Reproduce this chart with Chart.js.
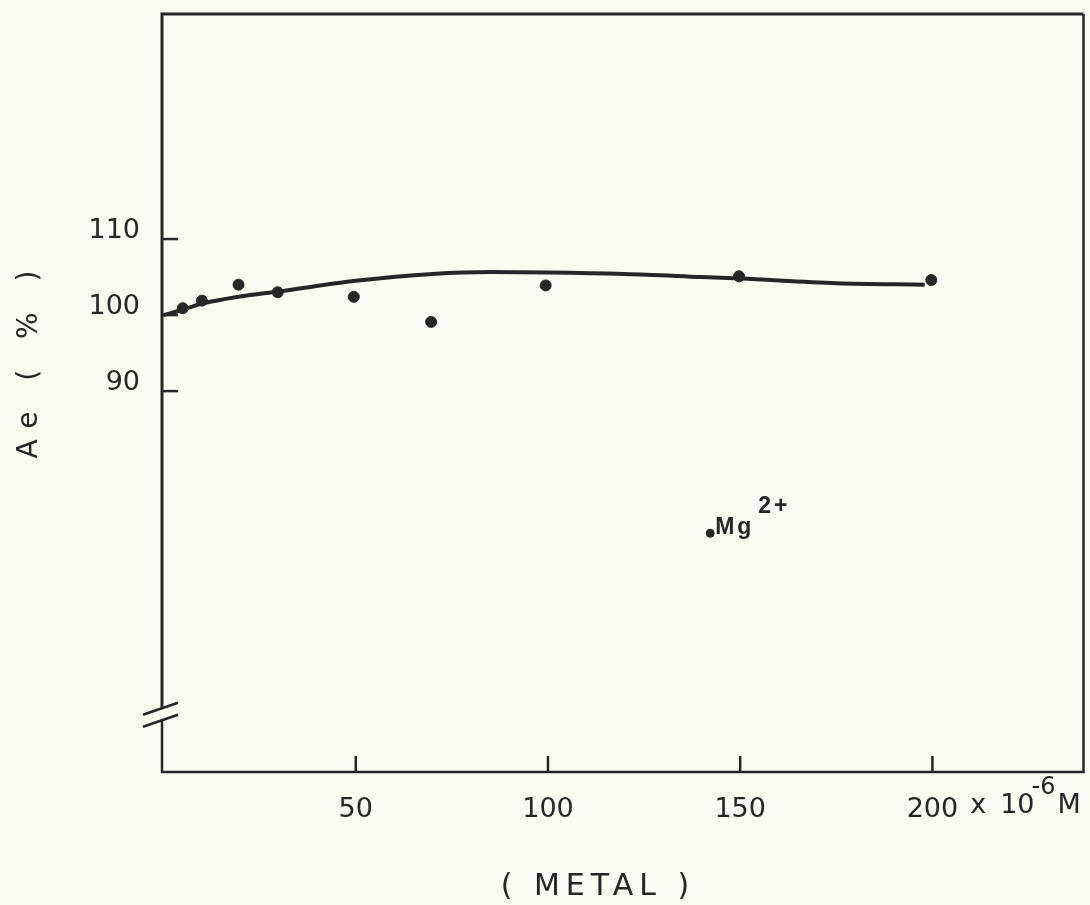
<!DOCTYPE html>
<html>
<head>
<meta charset="utf-8">
<script src="https://cdn.jsdelivr.net/npm/chart.js@4.4.1/dist/chart.umd.min.js"></script>
<style>
  html, body { margin: 0; padding: 0; background: #fbfbf3; }
  #wrap { width: 1090px; height: 905px; }
</style>
</head>
<body>
<div id="wrap"><canvas id="chart" width="1090" height="905"></canvas></div>
<script>
// metal concentration (x 10^-6 M) and Ae (%)
const xTicks = [50, 100, 150, 200];
const yTicks = [90, 100, 110];
const conc = [5, 10, 19.5, 29.7, 49.5, 69.6, 99.4, 149.7, 199.7];
const ae = [100.9, 101.9, 104.0, 103.0, 102.4, 99.1, 103.9, 105.1, 104.6];
// hand-drawn fitted curve
const fitConc = [0, 5, 10, 20, 30, 50, 70, 85, 100, 120, 140, 150, 175, 198];
const fitAe = [100.0, 100.7, 101.5, 102.45, 103.1, 104.5, 105.4, 105.65, 105.6, 105.4, 105.0, 104.8, 104.2, 104.0];
// key marker
const keyConc = [142.2];
const keyAe = [71.3];
const keyLabel = 'Mg';
const keySup = '2+';
const breakAt = 47.5;

const ink = '#262626';
const font = '"DejaVu Sans", sans-serif';

const toPts = (xs, ys) => xs.map((x, i) => ({ x: x, y: ys[i] }));

const decor = {
  id: 'decor',
  beforeDatasetsDraw(chart) {
    const { ctx, chartArea: a, scales: { x, y } } = chart;
    ctx.save();
    ctx.strokeStyle = ink;
    ctx.lineCap = 'butt';
    // frame
    const gapTop = y.getPixelForValue(breakAt) - 6;
    const gapBot = y.getPixelForValue(breakAt) + 6;
    ctx.lineWidth = 2.5;
    ctx.beginPath();
    ctx.moveTo(a.left, gapBot); ctx.lineTo(a.left, a.bottom); ctx.lineTo(a.right, a.bottom); ctx.lineTo(a.right, a.top);
    ctx.stroke();
    ctx.lineWidth = 3;
    ctx.beginPath();
    ctx.moveTo(a.right, a.top); ctx.lineTo(a.left, a.top); ctx.lineTo(a.left, gapTop);
    ctx.stroke();
    // axis break
    ctx.lineWidth = 2.5;
    [gapTop, gapBot].forEach(py => {
      ctx.beginPath();
      ctx.moveTo(a.left - 19, py + 6.5);
      ctx.lineTo(a.left + 16, py - 5.5);
      ctx.stroke();
    });
    // inward ticks
    yTicks.forEach(v => {
      const py = y.getPixelForValue(v);
      ctx.beginPath(); ctx.moveTo(a.left, py); ctx.lineTo(a.left + 16, py); ctx.stroke();
    });
    xTicks.forEach(v => {
      const px = x.getPixelForValue(v);
      ctx.beginPath(); ctx.moveTo(px, a.bottom); ctx.lineTo(px, a.bottom - 16); ctx.stroke();
    });
    ctx.restore();
  },
  afterDraw(chart) {
    const { ctx, scales: { x, y } } = chart;
    ctx.save();
    ctx.fillStyle = ink;
    ctx.textBaseline = 'alphabetic';
    // unit after the last x tick label
    ctx.font = '27px ' + font;
    const last = xTicks[xTicks.length - 1];
    let px = x.getPixelForValue(last) + ctx.measureText(String(last)).width / 2;
    const base = 813;
    px += 12;
    ctx.fillText('x', px, base); px += ctx.measureText('x').width + 14;
    ctx.fillText('10', px, base); px += ctx.measureText('10').width;
    ctx.font = '24px ' + font;
    ctx.fillText('-6', px - 3, base - 19); px += ctx.measureText('-6').width;
    ctx.font = '27px ' + font;
    ctx.fillText('M', px - 1, base);
    // x title
    ctx.font = '30px ' + font;
    ctx.letterSpacing = '6px';
    ctx.textAlign = 'center';
    ctx.fillText('( METAL )', 598, 895);
    // y title
    ctx.save();
    ctx.translate(37, 359);
    ctx.rotate(-Math.PI / 2);
    ctx.font = '28px ' + font;
    ctx.letterSpacing = '11px';
    ctx.fillText('Ae ( % )', 0, 0);
    ctx.restore();
    // key label
    ctx.letterSpacing = '3px';
    ctx.textAlign = 'left';
    const kx = x.getPixelForValue(keyConc[0]);
    const ky = y.getPixelForValue(keyAe[0]);
    ctx.font = 'bold 23px "Liberation Sans", sans-serif';
    ctx.fillText(keyLabel, kx + 5, ky + 1);
    ctx.fillText(keySup, kx + 48, ky - 20);
    ctx.restore();
  }
};

new Chart(document.getElementById('chart'), {
  type: 'scatter',
  data: {
    datasets: [
      {
        type: 'line',
        data: toPts(fitConc, fitAe),
        borderColor: ink,
        borderWidth: 4,
        pointRadius: 0,
        cubicInterpolationMode: 'monotone',
        fill: false
      },
      {
        data: toPts(conc, ae),
        backgroundColor: ink,
        borderColor: ink,
        pointRadius: 5.5,
        showLine: false
      },
      {
        data: toPts(keyConc, keyAe),
        backgroundColor: ink,
        borderColor: ink,
        pointRadius: 4,
        showLine: false
      }
    ]
  },
  options: {
    responsive: false,
    animation: false,
    layout: { padding: { top: 14, right: 2, left: 0, bottom: 0 } },
    plugins: { legend: { display: false }, tooltip: { enabled: false } },
    scales: {
      x: {
        type: 'linear',
        min: -0.4,
        max: 239.3,
        grid: { display: false },
        border: { display: false },
        afterBuildTicks: s => { s.ticks = xTicks.map(v => ({ value: v })); },
        afterFit: s => { s.height = 133; s.paddingLeft = 0; s.paddingRight = 0; },
        ticks: { color: ink, font: { family: font, size: 27 }, padding: 14 }
      },
      y: {
        type: 'linear',
        min: 39.9,
        max: 139.6,
        grid: { display: false },
        border: { display: false },
        afterBuildTicks: s => { s.ticks = yTicks.map(v => ({ value: v })); },
        afterFit: s => { s.width = 162; s.paddingTop = 0; s.paddingBottom = 0; },
        ticks: { color: ink, font: { family: font, size: 27 }, padding: 14, labelOffset: -8 }
      }
    }
  },
  plugins: [decor]
});
</script>
</body>
</html>
